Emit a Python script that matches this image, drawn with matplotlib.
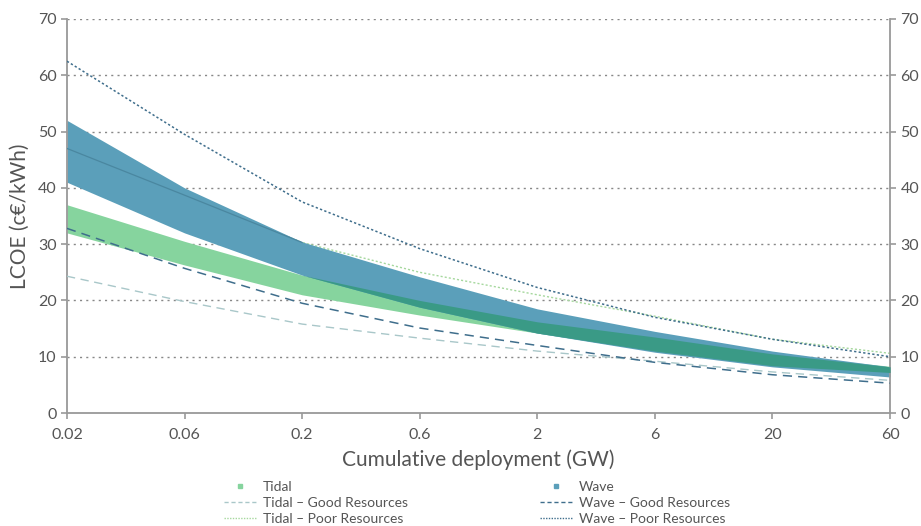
import numpy as np
import matplotlib.pyplot as plt
from matplotlib.lines import Line2D

plt.rcParams['font.family'] = ['Lato', 'DejaVu Sans']

# x categories (GW), plotted at equal spacing
deployment = ['0.02', '0.06', '0.2', '0.6', '2', '6', '20', '60']

# LCOE bands (c€/kWh)
tidal_high = [37.0, 30.5, 24.5, 20.0, 16.2, 13.5, 10.5, 8.3]
tidal_low = [32.0, 26.3, 21.0, 17.4, 14.2, 11.0, 8.4, 7.2]
wave_high = [52.0, 40.0, 30.4, 24.2, 18.5, 14.5, 11.0, 8.2]
wave_low = [41.0, 32.0, 24.5, 18.8, 14.2, 10.8, 8.2, 6.4]

# resource scenario lines
tidal_good = [24.3, 19.8, 15.8, 13.3, 11.0, 9.2, 7.3, 5.8]
tidal_poor = [47.0, 38.7, 30.3, 25.0, 21.0, 17.2, 13.1, 10.6]
wave_good = [32.8, 25.7, 19.5, 15.1, 12.0, 9.0, 6.8, 5.3]
wave_poor = [62.5, 49.5, 37.5, 29.2, 22.3, 17.0, 13.1, 10.0]

col_tidal = '#86d49e'
col_wave = '#5b9fba'
col_both = '#3a9a86'
col_wave_line = '#3f6e8c'
col_tidal_good = '#a9c7c9'
col_tidal_poor = '#a6d89e'
grey = '#555555'

x = np.arange(len(deployment))
th, tl = np.array(tidal_high), np.array(tidal_low)
wh, wl = np.array(wave_high), np.array(wave_low)

fig = plt.figure(figsize=(9.21, 5.26), dpi=100)
ax = fig.add_axes([0.0727, 0.2148, 0.8937, 0.7491])

# tidal poor sits under the bands, so it only shows outside them
ax.plot(x, tidal_poor, color=col_tidal_poor, ls=(0, (1.5, 1.5)), lw=1.0, zorder=1.5)

ax.fill_between(x, tl, th, color=col_tidal, lw=0, zorder=2)
ax.fill_between(x, wl, wh, color=col_wave, lw=0, zorder=2)
# overlap of the two bands
lo = np.maximum(tl, wl)
hi = np.minimum(th, wh)
ax.fill_between(x, lo, hi, where=hi > lo, interpolate=True, color=col_both, lw=0, zorder=3)

# faint trace of tidal poor through the wave band
ax.plot(x[:3], tidal_poor[:3], color='#4a87a0', lw=0.9, zorder=3.5)

ax.plot(x, tidal_good, color=col_tidal_good, ls=(0, (6, 4)), lw=1.0, zorder=4)
ax.plot(x, wave_good, color=col_wave_line, ls=(0, (6, 4)), lw=1.1, zorder=4)
ax.plot(x, wave_poor, color=col_wave_line, ls=(0, (1.5, 1.5)), lw=1.1, zorder=4)

ax.set_xlim(0, len(deployment) - 1)
ax.set_ylim(0, 70)
ax.set_xticks(x)
ax.set_xticklabels(deployment)
ax.set_yticks(range(0, 71, 10))
for v in range(10, 71, 10):
    ax.axhline(v, color='#888888', ls=(0, (1.5, 3)), lw=1.0, zorder=1)

ax.spines['top'].set_visible(False)
for s in ['left', 'right', 'bottom']:
    ax.spines[s].set_color('#999999')
    ax.spines[s].set_linewidth(1.3)
ax.tick_params(axis='both', colors='#999999', labelcolor=grey, labelsize=11.5, length=4, width=1.2)
ax.tick_params(axis='x', pad=7)
ax.tick_params(axis='y', right=True, labelright=True)

ax.set_xlabel('Cumulative deployment (GW)', fontsize=15, color=grey, labelpad=5)
ax.set_ylabel('LCOE (c€/kWh)', fontsize=15, color=grey, labelpad=6)

h1 = [Line2D([], [], marker='s', ms=3.5, ls='none', color=col_tidal),
      Line2D([], [], color=col_tidal_good, ls=(0, (3, 2)), lw=1.0),
      Line2D([], [], color=col_tidal_poor, ls=(0, (1, 1)), lw=1.0)]
l1 = ['Tidal', 'Tidal – Good Resources', 'Tidal – Poor Resources']
h2 = [Line2D([], [], marker='s', ms=3.5, ls='none', color=col_wave),
      Line2D([], [], color=col_wave_line, ls=(0, (3, 2)), lw=1.0),
      Line2D([], [], color=col_wave_line, ls=(0, (1, 1)), lw=1.0)]
l2 = ['Wave', 'Wave – Good Resources', 'Wave – Poor Resources']

for hs, ls_, xpos in [(h1, l1, 0.236), (h2, l2, 0.579)]:
    leg = fig.legend(hs, ls_, loc='upper left', bbox_to_anchor=(xpos, 0.099),
                     frameon=False, fontsize=10, handlelength=2.3, handletextpad=0.5,
                     labelspacing=0.3, borderpad=0)
    for t in leg.get_texts():
        t.set_color(grey)

fig.savefig('out.png', dpi=100)
